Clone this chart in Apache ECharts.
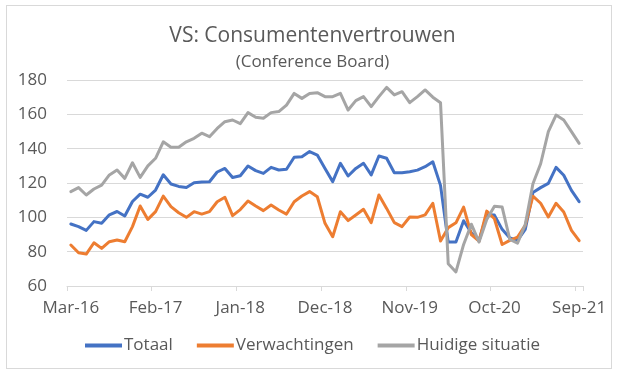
<!DOCTYPE html>
<html>
<head>
<meta charset="utf-8">
<script src="https://cdn.jsdelivr.net/npm/echarts@6/dist/echarts.min.js"></script>
<style>
html,body{margin:0;padding:0;background:#fff;}
#frame{position:absolute;left:6px;top:5px;width:606px;height:364px;border:1.5px solid #d9d9d9;box-sizing:border-box;}
#c{position:absolute;left:0;top:0;width:625px;height:380px;}
</style>
</head>
<body>
<div id="frame"></div>
<div id="c"></div>
<script>
const monthNames = ['Jan','Feb','Mar','Apr','May','Jun','Jul','Aug','Sep','Oct','Nov','Dec'];
const startYear = 2016, startMonth = 2, monthCount = 67;
const categories = [];
for (let k = 0; k < monthCount; k++) {
  const m = (startMonth + k) % 12;
  const y = startYear + Math.floor((startMonth + k) / 12);
  categories.push(monthNames[m] + '-' + String(y).slice(2));
}

const totaal = [
  96.1, 94.6, 92.4, 97.5, 96.6, 101.5, 103.4, 100.8, 109.2, 113.5, 111.7, 115.9,
  124.8, 119.4, 118.0, 117.4, 120.1, 120.6, 120.7, 126.4, 128.5, 123.2, 124.2, 129.9,
  127.2, 125.6, 129.1, 127.6, 128.0, 135.0, 135.3, 138.3, 136.3, 128.5, 120.8, 131.5,
  124.1, 128.5, 131.5, 124.7, 135.7, 134.4, 126.0, 126.0, 126.6, 127.5, 129.5, 132.4,
  118.6, 85.6, 85.6, 98.0, 91.0, 86.5, 101.5, 101.3, 93.0, 88.0, 86.5, 93.0,
  114.5, 117.3, 119.8, 129.1, 124.5, 115.7, 109.1
];
const verwachtingen = [
  83.9, 79.4, 78.6, 85.2, 81.9, 85.8, 86.8, 85.8, 94.6, 106.6, 98.8, 103.3,
  112.4, 106.2, 102.7, 100.0, 103.3, 101.9, 103.3, 109.1, 111.7, 101.0, 104.5, 109.5,
  106.6, 103.9, 107.2, 104.3, 101.9, 109.1, 112.4, 115.0, 112.0, 96.5, 88.7, 103.3,
  98.1, 101.4, 104.7, 96.9, 113.0, 105.2, 96.9, 94.6, 100.2, 100.0, 101.4, 108.2,
  86.2, 94.0, 96.8, 106.0, 90.0, 86.1, 103.6, 99.2, 84.2, 86.6, 88.5, 95.3,
  112.3, 108.2, 100.2, 108.2, 103.1, 92.4, 86.4
];
const huidigeSituatie = [
  115.0, 117.3, 113.0, 116.5, 118.8, 124.7, 127.6, 122.7, 131.8, 123.3, 130.0, 134.4,
  144.0, 140.8, 140.8, 144.0, 146.0, 149.0, 147.0, 151.8, 155.7, 156.7, 154.6, 161.0,
  158.3, 157.7, 161.0, 161.6, 165.4, 172.2, 169.3, 172.2, 172.6, 170.3, 170.3, 172.2,
  162.5, 168.0, 170.3, 164.5, 170.3, 175.7, 171.3, 173.2, 166.8, 170.3, 174.2, 170.0,
  166.8, 73.0, 68.2, 84.2, 96.0, 85.6, 98.7, 106.4, 106.0, 87.1, 85.0, 95.8,
  119.6, 131.2, 149.9, 159.6, 156.7, 149.9, 143.1
];
const yMin = 60, yMax = 180, yStep = 20;

const font = '"Open Sans", "Noto Sans", sans-serif';
const textColor = '#595959';
const chart = echarts.init(document.getElementById('c'), null, {renderer: 'canvas'});
function line(name, data, color) {
  return {
    name: name, type: 'line', data: data, symbol: 'none', smooth: false,
    lineStyle: {color: color, width: 3, join: 'round', cap: 'round'},
    itemStyle: {color: color}
  };
}
chart.setOption({
  animation: false,
  backgroundColor: 'transparent',
  title: [
    {text: 'VS: Consumentenvertrouwen', left: 'center', top: 21,
     textStyle: {fontFamily: font, fontSize: 21, fontWeight: 'normal', color: textColor}},
    {text: '(Conference Board)', left: 'center', top: 49,
     textStyle: {fontFamily: font, fontSize: 17, fontWeight: 'normal', color: textColor}}
  ],
  grid: {left: 67, right: 42, top: 80, bottom: 94, containLabel: false},
  legend: {
    top: 332, left: 'center', itemGap: 24, itemWidth: 37, itemHeight: 4, icon: 'rect',
    textStyle: {fontFamily: font, fontSize: 17, color: textColor, padding: [0, 0, 0, -3]},
    data: ['Totaal', 'Verwachtingen', 'Huidige situatie']
  },
  xAxis: {
    type: 'category', data: categories, boundaryGap: true,
    axisLine: {lineStyle: {color: '#d9d9d9', width: 1}},
    axisTick: {show: true, interval: 10, length: 5, lineStyle: {color: '#d9d9d9'}},
    axisLabel: {interval: 10, color: textColor, fontFamily: font, fontSize: 17, margin: 14},
    splitLine: {show: false}
  },
  yAxis: {
    type: 'value', min: yMin, max: yMax, interval: yStep,
    axisLine: {show: false}, axisTick: {show: false},
    axisLabel: {color: textColor, fontFamily: font, fontSize: 17, margin: 20},
    splitLine: {lineStyle: {color: '#d9d9d9', width: 1}}
  },
  series: [
    line('Totaal', totaal, '#4472C4'),
    line('Verwachtingen', verwachtingen, '#ED7D31'),
    line('Huidige situatie', huidigeSituatie, '#A5A5A5')
  ]
});
</script>
</body>
</html>
